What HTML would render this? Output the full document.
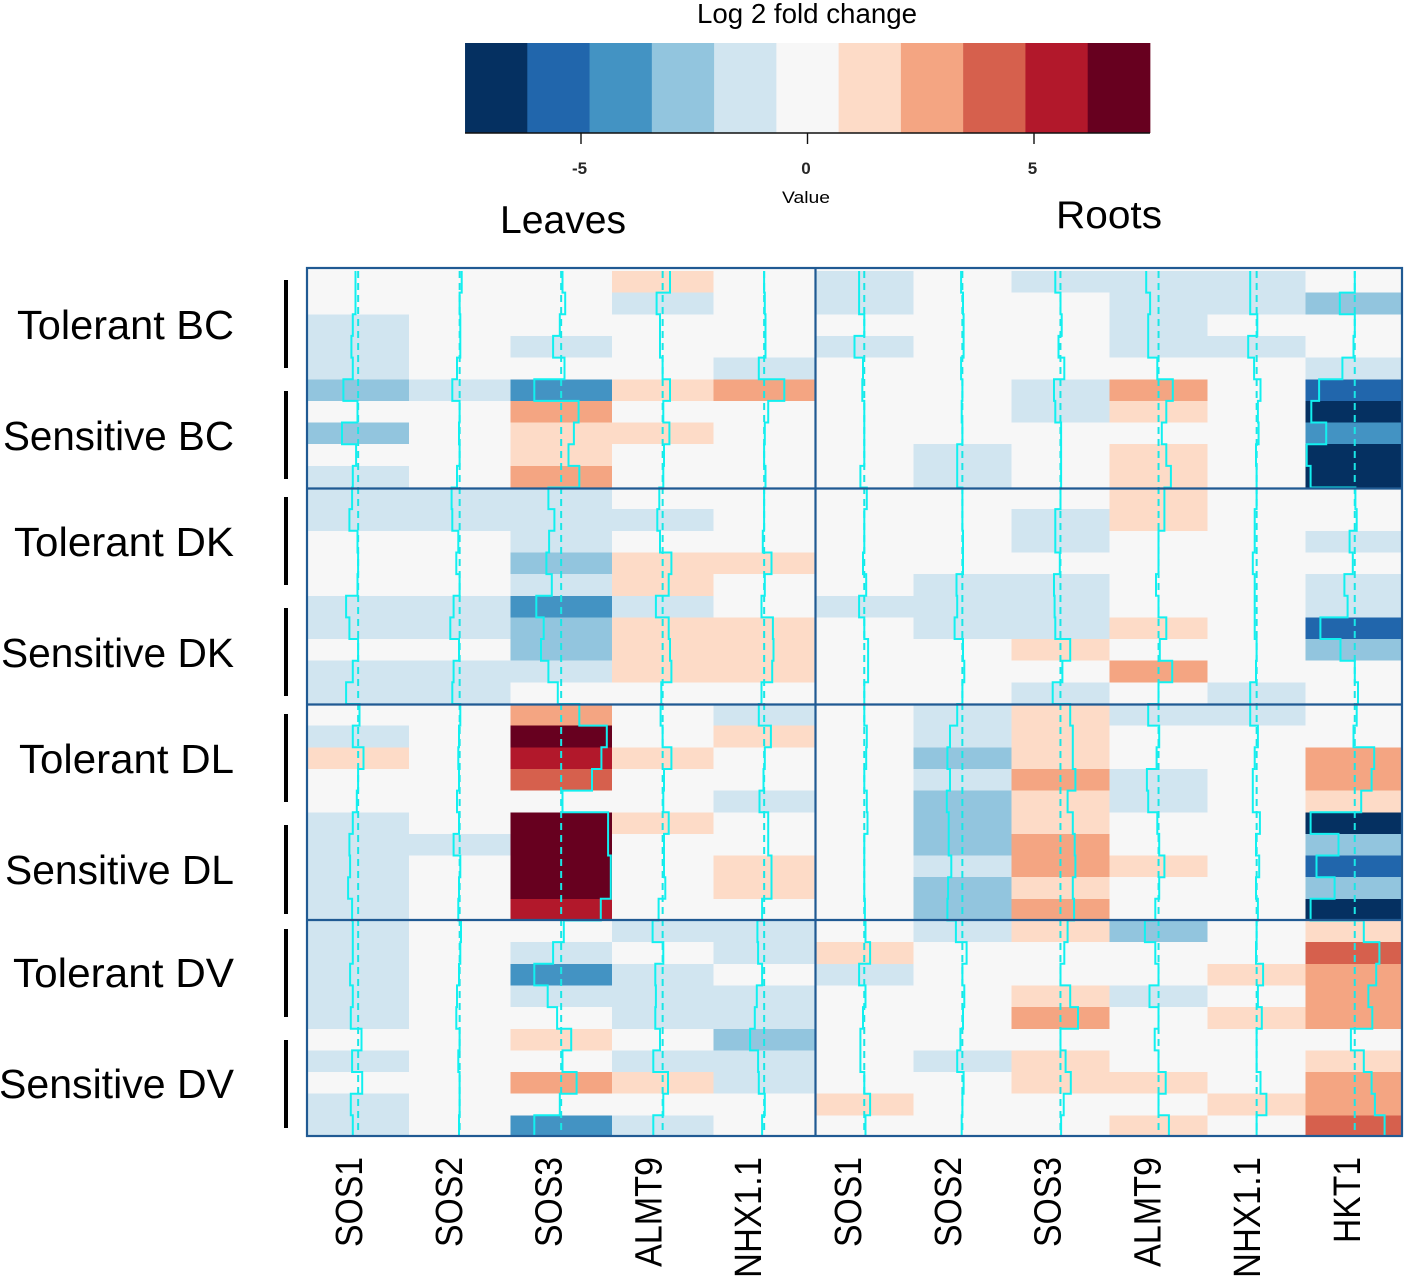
<!DOCTYPE html>
<html lang="en">
<head>
<meta charset="utf-8">
<title>Log 2 fold change heatmap</title>
<style>
html,body{margin:0;padding:0;background:#fff;width:1417px;height:1278px;overflow:hidden}
svg{display:block}
text{font-family:"Liberation Sans",sans-serif;fill:#000}
</style>
</head>
<body>
<svg id="chart" xmlns="http://www.w3.org/2000/svg" width="1417" height="1278" viewBox="0 0 1417 1278">
  <rect x="0" y="0" width="1417" height="1278" fill="#ffffff"/>
  <g id="legend">
    <text x="697" y="23" font-size="28" textLength="220" lengthAdjust="spacingAndGlyphs">Log 2 fold change</text>
    <g id="legend-bins"></g>
    <g id="legend-ticks"></g>
    <text x="806" y="203" font-size="17" text-anchor="middle" textLength="48" lengthAdjust="spacingAndGlyphs">Value</text>
  </g>
  <text x="500" y="233" font-size="39" textLength="126" lengthAdjust="spacingAndGlyphs">Leaves</text>
  <text x="1056" y="228" font-size="39" textLength="106" lengthAdjust="spacingAndGlyphs">Roots</text>

  <g font-size="41">
    <text x="17" y="339" textLength="217" lengthAdjust="spacingAndGlyphs">Tolerant BC</text>
    <text x="3" y="450" textLength="231" lengthAdjust="spacingAndGlyphs">Sensitive BC</text>
    <text x="14" y="556" textLength="220" lengthAdjust="spacingAndGlyphs">Tolerant DK</text>
    <text x="1" y="667" textLength="233" lengthAdjust="spacingAndGlyphs">Sensitive DK</text>
    <text x="19" y="773" textLength="215" lengthAdjust="spacingAndGlyphs">Tolerant DL</text>
    <text x="5" y="884" textLength="229" lengthAdjust="spacingAndGlyphs">Sensitive DL</text>
    <text x="13" y="987" textLength="221" lengthAdjust="spacingAndGlyphs">Tolerant DV</text>
    <text x="-1" y="1098" textLength="235" lengthAdjust="spacingAndGlyphs">Sensitive DV</text>
  </g>
  <g fill="#000">
    <rect x="284" y="280" width="4" height="88"/>
    <rect x="284" y="391" width="4" height="88"/>
    <rect x="284" y="497" width="4" height="88"/>
    <rect x="284" y="608" width="4" height="88"/>
    <rect x="284" y="714" width="4" height="88"/>
    <rect x="284" y="825" width="4" height="89"/>
    <rect x="284" y="929" width="4" height="88"/>
    <rect x="284" y="1040" width="4" height="88"/>
  </g>

  <rect x="307" y="268" width="1095" height="868" fill="#f8f8f8"/>
  <g id="cells"></g>
  <g id="traces"></g>
  <g fill="none" stroke="#205a93" stroke-width="2.2">
    <rect x="307" y="268" width="1095" height="868"/>
    <line x1="815.5" y1="268" x2="815.5" y2="1136"/>
    <line x1="307" y1="488.5" x2="1402" y2="488.5"/>
    <line x1="307" y1="704.5" x2="1402" y2="704.5"/>
    <line x1="307" y1="920" x2="1402" y2="920"/>
  </g>
  <g id="gene-labels"></g>
</svg>

<script>
const binColors = ["#053061","#2166ac","#4393c3","#92c5de","#d1e5f0","#f7f7f7","#fddbc7","#f4a582","#d6604d","#b2182b","#67001f"];
const legendTicks = [-5, 0, 5];
const legendTickLabels = ["-5", "0", "5"];
const genes = ["SOS1","SOS2","SOS3","ALMT9","NHX1.1","SOS1","SOS2","SOS3","ALMT9","NHX1.1","HKT1"];
const geneLabelLengths = [90,90,90,110,121,90,90,90,110,121,86];

const leavesSOS1 = [-0.4,-0.4,-0.8,-1.0,-0.8,-2.2,-0.1,-2.4,-0.3,-0.8, -0.9,-1.3,-0.1,0,-0.1,-1.8,-1.3,0,-0.8,-1.8, 0.2,-0.8,0.8,0,-0.2,-0.8,-1.3,-1.2,-1.5,-0.9, -0.8,-0.8,-1.2,-0.8,-1.1,0.5,-0.9,0.6,-1.1,-0.8];
const leavesSOS2 = [0.3,0,0.1,0.1,-0.4,-1.1,0,-0.1,0,-0.4, -1.2,-1.1,-0.2,-0.5,0,-0.9,-1.4,-0.1,-0.9,-1.1, 0.1,-0.1,-0.2,-0.1,-0.4,-0.1,-0.9,0.1,-0.1,-0.2, 0.2,0.1,-0.1,-0.4,-0.5,0,-0.2,0,0,-0.1];
const leavesSOS3 = [0.2,0.6,-0.2,-1.2,0.5,-4.0,2.6,1.9,1.1,2.7, -1.9,-1.0,-1.8,-2.2,-1.4,-3.7,-2.6,-3.0,-1.9,-0.5, 2.7,6.8,6.0,4.6,0.2,7.0,7.0,7.4,7.4,5.9, 0.4,-1.2,-4.0,-2.0,-0.6,1.5,0.2,2.3,-0.2,-4.0];
const leavesALMT9 = [1.1,-0.9,-0.4,-0.4,0,1.1,0.1,1.0,0.2,0.1, -0.5,-0.8,-0.4,1.3,0.9,-1.0,0.9,1.1,1.3,-0.2, -0.3,0,1.3,0.2,0.1,0.9,0.2,0.2,0.4,-0.6, -1.5,0.1,-1.1,-1.0,-1.1,-0.4,-1.4,0.8,0.1,-1.4];
const leavesNHX = [0,0.1,0.2,0.2,-0.8,3.0,0.6,0.1,0,0.2, 0,0,-0.2,1.1,0.1,-0.4,1.3,1.4,1.2,-0.4, -0.8,1.0,0.1,-0.1,-0.7,0.6,0.6,1.1,1.1,-0.3, -1.0,-0.9,-0.3,-1.1,-1.4,-2.1,-0.9,-0.8,0.1,-0.3];
const rootsSOS1 = [-0.8,-0.8,0,-1.5,-0.2,-0.3,0,0,0,-0.6, 0.4,0,0,-0.2,0.3,-0.8,0,0.6,0.6,0, 0,0.4,0.3,0,0.4,0.5,0,0,0,0.1, 0.2,0.9,-0.8,0.2,-0.2,-0.6,-0.6,0,0.9,0.2];
const rootsSOS2 = [-0.2,0.1,0.2,0.2,-0.2,0,-0.1,0,-0.8,-0.8, 0,0,0.1,0.1,-0.9,-0.8,-1.2,0.1,0.3,0, -0.8,-1.9,-2.3,-1.9,-2.4,-2.1,-2.1,-1.7,-2.2,-2.3, -1.0,0.65,0,0.3,0.1,-0.3,-0.8,0.2,0,-0.1];
const rootsSOS3 = [-0.8,0,0.2,-0.3,0.6,-1.0,-0.8,0.1,0.1,0.1, 0,-0.8,-0.8,-0.1,-1.0,-0.9,-0.8,1.5,0.3,-1.2, 1.5,1.9,1.9,2.3,1.1,1.9,2.2,2.3,1.9,2.1, 1.1,0.6,0,1.5,2.7,0,0.8,1.6,0.5,0.1];
const rootsALMT9 = [-1.9,-1.3,-1.6,-1.6,-0.2,2.2,1.2,0.5,1.2,1.9, 0.9,0.9,0,0,-0.4,0,1.2,0.2,2.1,0, -1.6,0.1,-0.3,-1.8,-1.6,-0.2,0.1,0.9,0.1,-0.5, -2.1,-0.5,0,-1.4,0,-0.6,0,1.1,0,1.6];
const rootsNHX = [-1.0,-1.0,0.1,-1.3,-0.4,0.6,0.2,0.3,-0.1,0, 0,-0.3,-0.3,-0.6,-0.3,-0.3,-0.3,0,-0.1,-1.0, -1.0,0.2,-0.3,-0.6,-0.6,0.5,-0.1,0.4,-0.1,0.2, 0,-0.1,1.0,0.2,0.8,0,0,0.6,1.5,0];
const rootsHKT1 = [0,-2.3,0,-0.2,-1.9,-5.5,-6.7,-4.4,-7.4,-6.8, 0.1,0.3,-0.8,-0.3,-1.6,-1.1,-5.3,-2.2,0,0.5, 0.3,-0.2,3.0,2.6,1.0,-6.8,-2.5,-5.9,-3.1,-6.8, 1.4,3.8,3.3,2.1,2.7,-0.6,1.4,2.6,3.1,4.6];

const columns = [leavesSOS1,leavesSOS2,leavesSOS3,leavesALMT9,leavesNHX,rootsSOS1,rootsSOS2,rootsSOS3,rootsALMT9,rootsNHX,rootsHKT1];

const SVG_NS = "http://www.w3.org/2000/svg";
const valueMax = 7.56;
const rowCount = leavesSOS1.length;

function rowY(i){ return 271 + i * 21.65; }
function colLeft(c){ return c < 5 ? 307.4 + c * 101.5 : 815.2 + (c - 5) * 98.1; }
function colWidth(c){ return c < 5 ? 101.5 : 98.1; }
function colCenter(c){ return colLeft(c) + colWidth(c) / 2; }
function traceScale(c){ return colWidth(c) / (2 * valueMax); }
function traceX(c, v){ return colCenter(c) + v * traceScale(c); }
function legendX(v){ return 807.5 + v * 45.3; }
function geneLabelX(c){ return 362 + c * 99.8; }
function binIndex(v){
  const width = 2 * valueMax / binColors.length;
  const idx = Math.floor((v + valueMax) / width);
  return Math.max(0, Math.min(binColors.length - 1, idx));
}
function make(tag){ return document.createElementNS(SVG_NS, tag); }

/* colour key */
const legendBins = document.getElementById("legend-bins");
binColors.forEach(function(color, i){
  const width = 2 * valueMax / binColors.length;
  const x0 = legendX(-valueMax + i * width);
  const x1 = legendX(-valueMax + (i + 1) * width);
  const r = make("rect");
  
  
  r.setAttribute("x", x0);
  r.setAttribute("y", 43);
  r.setAttribute("width", x1 - x0 + 0.4);
  r.setAttribute("height", 90);
  r.setAttribute("fill", color);
  legendBins.appendChild(r);
});
const legendTickGroup = document.getElementById("legend-ticks");
const legendAxis = make("line");


legendAxis.setAttribute("x1", legendX(-valueMax));
legendAxis.setAttribute("x2", legendX(valueMax));
legendAxis.setAttribute("y1", 133);
legendAxis.setAttribute("y2", 133);
legendAxis.setAttribute("stroke", "#111");
legendAxis.setAttribute("stroke-width", "1.4");
legendTickGroup.appendChild(legendAxis);
legendTicks.forEach(function(v, i){
  const t = make("line");
  
  
  t.setAttribute("x1", legendX(v));
  t.setAttribute("x2", legendX(v));
  t.setAttribute("y1", 133);
  t.setAttribute("y2", 144);
  t.setAttribute("stroke", "#111");
  t.setAttribute("stroke-width", "1.4");
  legendTickGroup.appendChild(t);
  const l = make("text");
  
  
  l.setAttribute("x", legendX(v) - 1.5);
  l.setAttribute("y", 174);
  l.setAttribute("font-size", "17");
  l.setAttribute("font-weight", "bold");
  l.setAttribute("text-anchor", "middle");
  l.setAttribute("fill-opacity", "0.85");
  l.textContent = legendTickLabels[i];
  legendTickGroup.appendChild(l);
});

/* heatmap cells */
const cellGroup = document.getElementById("cells");
columns.forEach(function(values, c){
  values.forEach(function(v, i){
    const r = make("rect");
    
    
    const left = Math.max(colLeft(c), 308);
    const right = Math.min(colLeft(c) + colWidth(c), 1402);
    r.setAttribute("x", left);
    r.setAttribute("y", rowY(i));
    r.setAttribute("width", right - left);
    r.setAttribute("height", 21.65);
    r.setAttribute("fill", binColors[binIndex(v)]);
    r.setAttribute("shape-rendering", "crispEdges");
    cellGroup.appendChild(r);
  });
});

/* centre lines and step traces */
const traceGroup = document.getElementById("traces");
columns.forEach(function(values, c){
  const center = make("line");
  
  
  center.setAttribute("x1", colCenter(c));
  center.setAttribute("x2", colCenter(c));
  center.setAttribute("y1", rowY(0));
  center.setAttribute("y2", rowY(rowCount));
  center.setAttribute("stroke", "#19e6e6");
  center.setAttribute("stroke-width", "2");
  center.setAttribute("stroke-dasharray", "7 5");
  traceGroup.appendChild(center);
  let d = "";
  values.forEach(function(v, i){
    const x = traceX(c, v).toFixed(1);
    d += (i === 0 ? "M" : "L") + x + " " + rowY(i).toFixed(1) + "L" + x + " " + rowY(i + 1).toFixed(1);
  });
  const p = make("path");
  
  
  p.setAttribute("d", d);
  p.setAttribute("fill", "none");
  p.setAttribute("stroke", "#12f0f0");
  p.setAttribute("stroke-width", "2");
  traceGroup.appendChild(p);
});

/* gene labels */
const labelGroup = document.getElementById("gene-labels");
genes.forEach(function(name, c){
  const t = make("text");
  
  
  const x = geneLabelX(c);
  t.setAttribute("transform", "translate(" + x + " " + (1157 + geneLabelLengths[c]) + ") rotate(-90)");
  t.setAttribute("font-size", "38");
  t.setAttribute("textLength", geneLabelLengths[c]);
  t.setAttribute("lengthAdjust", "spacingAndGlyphs");
  t.textContent = name;
  labelGroup.appendChild(t);
});
</script>
</body>
</html>
